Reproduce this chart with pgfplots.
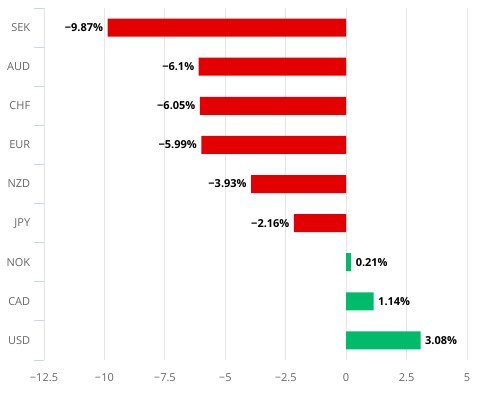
\documentclass[border=0pt]{standalone}
\usepackage{pgfplots}
\pgfplotsset{compat=1.18}
\usepackage{fontspec}
\setmainfont{Open Sans}
\definecolor{barred}{RGB}{228,0,0}
\definecolor{bargreen}{RGB}{0,187,106}
\definecolor{gridc}{RGB}{230,230,230}
\definecolor{axisc}{RGB}{204,214,235}
\definecolor{labc}{RGB}{102,102,102}
\begin{document}
\begin{tikzpicture}[x=1pt,y=1pt]
\path[use as bounding box] (0,0) rectangle (483,399);
\begin{axis}[
  at={(44pt,39pt)}, anchor=south west,
  scale only axis, width=423pt, height=352pt,
  xmin=-12.5, xmax=5, ymin=-0.5, ymax=8.5,
  y dir=reverse,
  xbar, bar width=18pt, bar shift=0pt,
  axis line style={draw=none},
  xtick={-12.5,-10,-7.5,-5,-2.5,0,2.5,5},
  xticklabels={−12.5,−10,−7.5,−5,−2.5,0,2.5,5},
  xmajorgrids, grid style={gridc, line width=0.8pt},
  major x tick style={draw=none},
  ytick={0,...,8},
  yticklabels={SEK,AUD,CHF,EUR,NZD,JPY,NOK,CAD,USD},
  major y tick style={draw=none},
  minor ytick={-0.5,0.5,1.5,2.5,3.5,4.5,5.5,6.5,7.5,8.5},
  minor y tick style={draw=axisc, line width=0.8pt},
  minor tick length=10pt,
  ytick pos=left, tick align=outside,
  ticklabel style={font=\fontsize{11}{13}\selectfont, text=labc},
  yticklabel style={xshift=-6pt},
  xticklabel style={yshift=-6pt},
  point meta=explicit symbolic,
  nodes near coords,
  nodes near coords style={font=\fontsize{11}{13}\selectfont\bfseries, text=black},
]
\addplot[fill=barred, draw=none, every node near coord/.append style={anchor=east, xshift=-1pt}] coordinates {
  (-9.87,0) [−9.87\%]
  (-6.1,1) [−6.1\%]
  (-6.05,2) [−6.05\%]
  (-5.99,3) [−5.99\%]
  (-3.93,4) [−3.93\%]
  (-2.16,5) [−2.16\%]
};
\addplot[fill=bargreen, draw=none, every node near coord/.append style={anchor=west, xshift=1pt}] coordinates {
  (0.21,6) [0.21\%]
  (1.14,7) [1.14\%]
  (3.08,8) [3.08\%]
};
\draw[axisc, line width=1pt] (rel axis cs:0,0) -- (rel axis cs:0,1);
\end{axis}
\end{tikzpicture}
\end{document}
